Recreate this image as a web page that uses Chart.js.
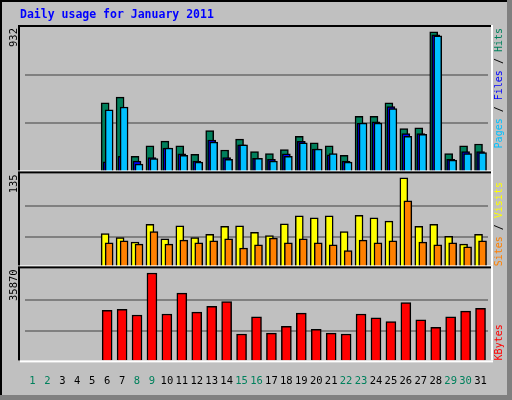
<!DOCTYPE html>
<html><head><meta charset="utf-8">
<script src="https://cdn.jsdelivr.net/npm/chart.js@4"></script>
<style>html,body{margin:0;padding:0;background:#C0C0C0;}#wrap{width:512px;height:400px;position:relative;}</style>
</head><body><div id="wrap"><canvas id="c" width="512" height="400"></canvas></div>
<script>
const days = ['1','2','3','4','5','6','7','8','9','10','11','12','13','14','15','16','17','18','19','20','21','22','23','24','25','26','27','28','29','30','31'];
const weekendDays = [1,2,8,9,15,16,22,23,29,30];
const hits  = [0,0,0,0,0,457,496,100,170,202,170,113,272,143,215,132,119,145,234,190,170,107,368,368,457,285,291,932,119,170,183];
const files = [0,0,0,0,0,64,100,68,92,156,117,68,209,92,177,87,81,117,200,149,111,68,323,330,432,253,253,911,81,132,132];
const pages = [0,0,0,0,0,411,430,48,85,156,107,62,196,81,177,87,68,100,190,149,119,62,323,323,419,234,247,905,75,119,126];
const visits = [0,0,0,0,0,50,44,37,64,42,62,44,49,61,62,52,47,65,77,74,77,53,78,74,69,135,61,64,46,34,49];
const sites  = [0,0,0,0,0,36,39,34,53,34,40,36,39,42,28,33,43,36,42,36,33,24,40,36,39,100,37,33,36,30,39];
const kbytes = [0,0,0,0,0,20600,21000,18650,35870,19040,27640,19820,22160,24120,10830,17870,11220,13960,19430,12780,11220,10830,19040,17480,15910,23730,16690,13570,17870,20210,21390];
const maxLabels = ['932','135','35870'];

Chart.defaults.animation = false;
const FONT = '"DejaVu Sans Mono", monospace';

const shiftPlugin = {
  id:'shift',
  afterDatasetsUpdate(chart){
    chart.data.datasets.forEach((ds,i)=>{
      const meta = chart.getDatasetMeta(i);
      if(ds.shift) meta.data.forEach(el=>{ el.x += ds.shift; });
    });
  }
};

const framePlugin = {
  id:'frame',
  beforeDraw(chart){
    const c = chart.ctx;
    c.save();
    c.fillStyle='#C0C0C0'; c.fillRect(0,0,512,400);
    c.fillStyle='#000'; c.fillRect(0,0,512,2); c.fillRect(0,0,2,400);
    c.fillStyle='#808080'; c.fillRect(0,395,512,5); c.fillRect(507,0,5,400);
    c.fillStyle='#0000FF'; c.font='bold 11.5px '+FONT; c.textBaseline='middle'; c.textAlign='left';
    c.fillText('Daily usage for January 2011', 20, 15);
    c.restore();
  },
  afterDraw(chart){
    const c = chart.ctx;
    const L = 20, R = 491;
    const ys = ['y1','y2','y3'].map(id=>chart.scales[id]);
    c.save();
    ys.forEach((s,i)=>{
      const top = s.top + (i>0?2:0), bot = s.bottom - (i<2?1:0);
      c.fillStyle='#000'; c.fillRect(L,top-2,R-L,2); c.fillRect(L-2,top-2,2,bot-top+2);
      c.fillStyle='#fff'; c.fillRect(L,bot,R-L+2,2); c.fillRect(R,top-2,2,bot-top+2);
      c.save(); c.translate(14, top+1); c.rotate(-Math.PI/2);
      c.fillStyle='#000'; c.font='10.5px '+FONT; c.textAlign='right'; c.textBaseline='middle';
      c.fillText(maxLabels[i],0,0); c.restore();
    });
    const legends = [
      [['Pages','#00C0FF'],[' / ','#000'],['Files','#0000FF'],[' / ','#000'],['Hits','#00805C']],
      [['Sites','#FF8000'],[' / ','#000'],['Visits','#FFFF00']],
      [['KBytes','#FF0000']]
    ];
    c.font='10px '+FONT; c.textBaseline='middle'; c.textAlign='left';
    ys.forEach((s,i)=>{
      let total = 0; legends[i].forEach(([t])=>{ total += c.measureText(t).width; });
      const start = i===0 ? s.top + 1 + total : s.bottom;
      c.save(); c.translate(499, start); c.rotate(-Math.PI/2);
      let x=0;
      legends[i].forEach(([t,col])=>{ c.fillStyle=col; c.fillText(t,x,0); x+=c.measureText(t).width; });
      c.restore();
    });
    c.restore();
  }
};

function gridTicks(fr){ return function(scale){ scale.ticks = fr.map(f=>({value: scale.max*f})); }; }
function yAxis(max, weight, fr){
  return { type:'linear', stack:'v', stackWeight:weight, min:0, max:max, position:'left',
    afterBuildTicks: gridTicks(fr),
    ticks:{display:false}, border:{display:false},
    grid:{color:'#808080', lineWidth:2, drawTicks:false} };
}

const bw = 1.5;
new Chart(document.getElementById('c'), {
  type:'bar',
  data:{ labels: days, datasets:[
    {data:hits, yAxisID:'y1', backgroundColor:'#00805C', borderColor:'#000', borderWidth:bw, barThickness:8, grouped:false, order:3, shift:-2},
    {data:files, yAxisID:'y1', backgroundColor:'#0000FF', borderColor:'#000', borderWidth:bw, barThickness:8, grouped:false, order:2, shift:0},
    {data:pages, yAxisID:'y1', backgroundColor:'#00C0FF', borderColor:'#000', borderWidth:bw, barThickness:8, grouped:false, order:1, shift:2},
    {data:visits, yAxisID:'y2', backgroundColor:'#FFFF00', borderColor:'#000', borderWidth:bw, barThickness:8, grouped:false, order:2, shift:-2},
    {data:sites, yAxisID:'y2', backgroundColor:'#FF8000', borderColor:'#000', borderWidth:bw, barThickness:8, grouped:false, order:1, shift:2},
    {data:kbytes, yAxisID:'y3', backgroundColor:'#FF0000', borderColor:'#000', borderWidth:bw, barThickness:10, grouped:false, order:1, shift:0}
  ]},
  options:{
    responsive:false, devicePixelRatio:1,
    layout:{padding:{left:25, right:24, top:27, bottom:5}},
    plugins:{legend:{display:false}, tooltip:{enabled:false}, title:{display:false}},
    scales:{
      x:{ grid:{display:false}, border:{display:false},
          ticks:{ padding:7, autoSkip:false, maxRotation:0, font:{family:FONT, size:10.5},
                  color:(ctx)=> weekendDays.includes(ctx.index+1) ? '#00805C' : '#000' } },
      y3: yAxis(38600, 99, [0.31,0.64]),
      y2: yAxis(145, 100, [0.31,0.64]),
      y1: yAxis(964, 152, [1/3,2/3])
    }
  },
  plugins:[shiftPlugin, framePlugin]
});
</script></body></html>
